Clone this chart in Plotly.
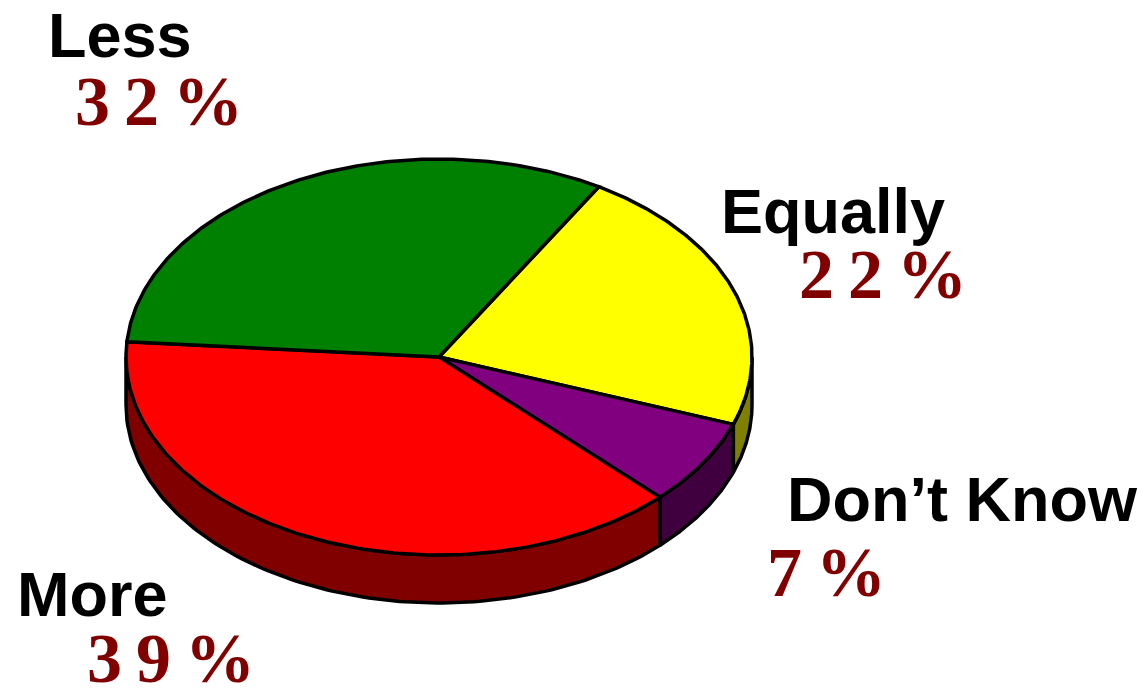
import numpy as np
import plotly.graph_objects as go

categories = ["Equally", "Don\u2019t Know", "More", "Less"]
values = [22, 7, 38.7, 32.3]
pct_labels = ["2\u20092\u2009%", "7\u2009%", "3\u20099\u2009%", "3\u20092\u2009%"]
top_colors = ["#ffff00", "#800080", "#ff0000", "#008000"]
side_colors = ["#808000", "#400040", "#800000", "#004000"]

# layout geometry
CX, CY, RX, RY, DEPTH = 439, 357, 313, 198, 48
START = 59.3
label_pos = {"Equally": (833, 211), "Don\u2019t Know": (962, 499), "More": (92, 594), "Less": (120, 35)}
pct_pos = {"Equally": (883, 274), "Don\u2019t Know": (826, 572), "More": (171, 658), "Less": (159, 101)}

def pt(t, dy=0):
    r = np.radians(t)
    return CX + RX * np.cos(r), CY - RY * np.sin(r) + dy

fig = go.Figure()
edges = START - np.cumsum([0] + values) * 3.6

# extruded side walls (only the front half of the rim is visible)
for i, c in enumerate(categories):
    a, b = edges[i], edges[i + 1]
    lo, hi = max(b, -180), min(a, 0)
    if lo >= hi:
        continue
    ts = np.linspace(hi, lo, 120)
    x1, y1 = pt(ts)
    x2, y2 = pt(ts[::-1], DEPTH)
    fig.add_trace(go.Scatter(x=np.r_[x1, x2, x1[0]], y=np.r_[y1, y2, y1[0]], mode="lines", fill="toself",
                             fillcolor=side_colors[i], line=dict(color="black", width=3.5),
                             hoverinfo="skip", showlegend=False))

# top faces
for i, c in enumerate(categories):
    ts = np.linspace(edges[i], edges[i + 1], 200)
    x, y = pt(ts)
    fig.add_trace(go.Scatter(x=np.r_[CX, x, CX], y=np.r_[CY, y, CY], mode="lines", fill="toself",
                             fillcolor=top_colors[i], line=dict(color="black", width=3.5),
                             name=c, text=f"{c}: {round(values[i])}%", hoverinfo="text", showlegend=False))

for i, c in enumerate(categories):
    x, y = label_pos[c]
    fig.add_annotation(x=x, y=y, text=f"<b>{c}</b>", showarrow=False, xanchor="center", yanchor="middle",
                       font=dict(family="Liberation Sans", size=63, color="black"))
    x, y = pct_pos[c]
    fig.add_annotation(x=x, y=y, text=f"<b>{pct_labels[i]}</b>", showarrow=False, xanchor="center", yanchor="middle",
                       font=dict(family="Liberation Serif", size=70, color="#800000"))

fig.update_layout(width=1143, height=690, margin=dict(l=0, r=0, t=0, b=0), paper_bgcolor="white",
                  plot_bgcolor="white", showlegend=False,
                  xaxis=dict(range=[0, 1143], visible=False, fixedrange=True),
                  yaxis=dict(range=[690, 0], visible=False, fixedrange=True))
fig.write_html("out.html", config={"displayModeBar": False},
               post_script="document.body.style.margin='0';document.body.style.overflow='hidden';")
